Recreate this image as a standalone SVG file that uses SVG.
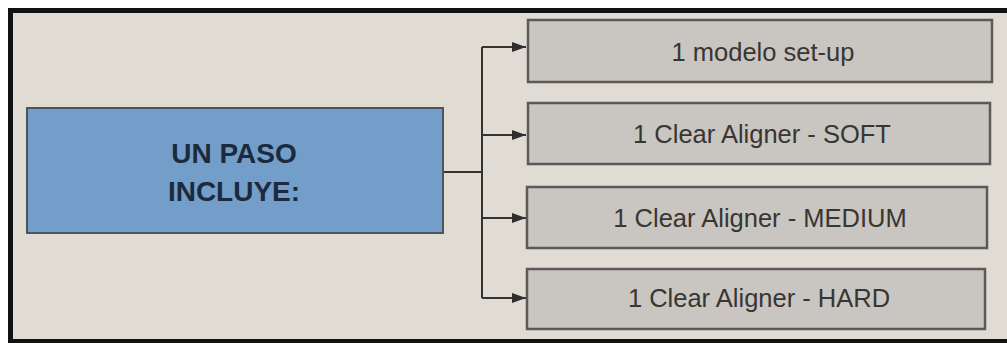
<svg xmlns="http://www.w3.org/2000/svg" width="1007" height="343" viewBox="0 0 1007 343">
<style>
.bg{fill:#e0dbd3}
.frame{fill:none;stroke:#111;stroke-width:5}
.blue{fill:#739ec9;stroke:#4a5560;stroke-width:2}
.gray{fill:#c9c5c0;stroke:#5c5a57;stroke-width:2.5}
.t1{font-family:"Liberation Sans",Arial,sans-serif;font-weight:bold;font-size:28px;fill:#1d2a3c;text-anchor:middle}
.t2{font-family:"Liberation Sans",Arial,sans-serif;font-size:25.5px;fill:#383633;text-anchor:middle}
.conn{fill:none;stroke:#333;stroke-width:2}
</style>
<defs>
<marker id="arr" viewBox="0 0 14 10" refX="14" refY="5" markerWidth="7" markerHeight="5" markerUnits="strokeWidth" orient="auto">
<path d="M0,0 L14,5 L0,10 z" fill="#2e2e2e"/>
</marker>
</defs>
<rect x="0" y="0" width="1007" height="343" fill="#ffffff"/>
<rect class="bg" x="10" y="10" width="997" height="330"/>
<path class="frame" d="M10.5,343 L10.5,10.5 L1007,10.5"/>
<rect x="8" y="339" width="999" height="4" fill="#111"/>
<g id="connectors">
<path class="conn" d="M443,172 L482,172"/>
<path class="conn" d="M482,47 L482,298"/>
<path class="conn" d="M482,47 L526,47" marker-end="url(#arr)"/>
<path class="conn" d="M482,135 L526,135" marker-end="url(#arr)"/>
<path class="conn" d="M482,218 L526,218" marker-end="url(#arr)"/>
<path class="conn" d="M482,298 L526,298" marker-end="url(#arr)"/>
</g>
<g id="node-main">
<rect class="blue" x="27" y="108" width="416" height="125"/>
<text class="t1" x="234" y="163">UN PASO</text>
<text class="t1" x="234" y="201">INCLUYE:</text>
</g>
<g id="node-1">
<rect class="gray" x="528" y="20" width="464" height="62"/>
<text class="t2" x="763" y="61">1 modelo set-up</text>
</g>
<g id="node-2">
<rect class="gray" x="528" y="103" width="462" height="61"/>
<text class="t2" x="762" y="143">1 Clear Aligner - SOFT</text>
</g>
<g id="node-3">
<rect class="gray" x="527" y="187" width="460" height="61"/>
<text class="t2" x="760" y="227">1 Clear Aligner - MEDIUM</text>
</g>
<g id="node-4">
<rect class="gray" x="527" y="269" width="458" height="60"/>
<text class="t2" x="759" y="307">1 Clear Aligner - HARD</text>
</g>
</svg>
